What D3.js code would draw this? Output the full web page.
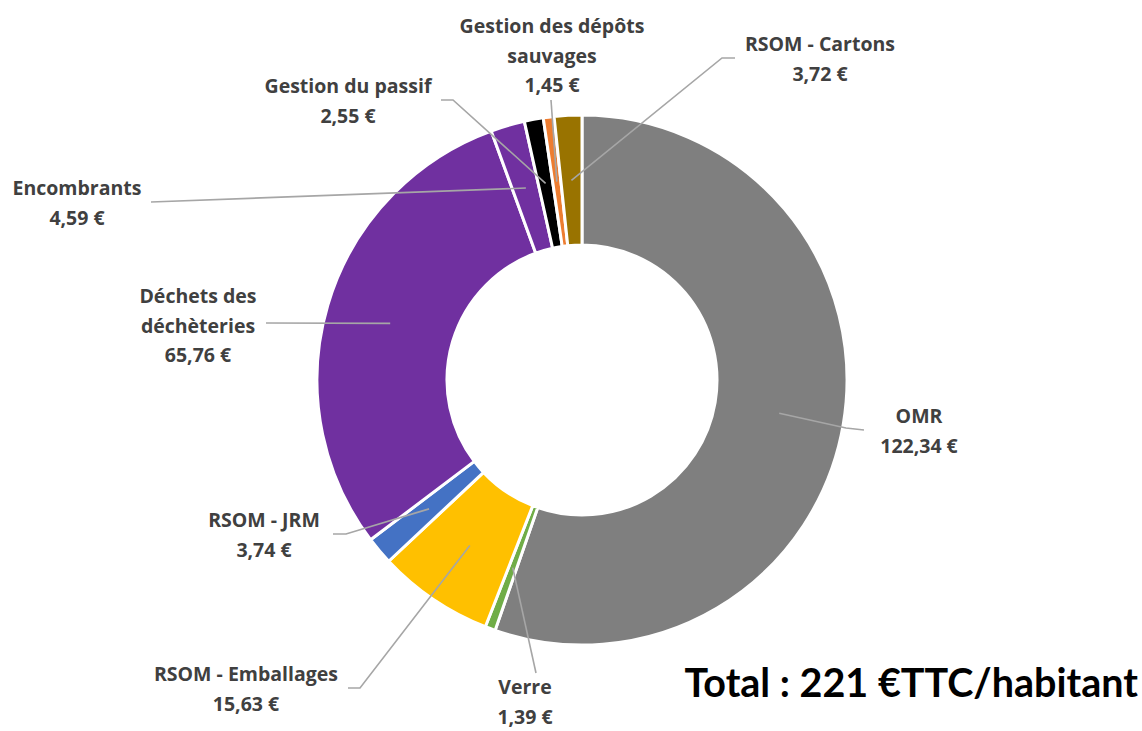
<!DOCTYPE html>
<html>
<head>
<meta charset="utf-8">
<script src="https://cdn.jsdelivr.net/npm/d3@7"></script>
<style>
  body { margin: 0; background: #fff; }
  svg { display: block; }
  .lbl { font-family: "Open Sans", Lato, sans-serif; font-weight: bold; fill: #404040; }
</style>
</head>
<body>
<div id="chart"></div>
<script>
// Data: cost per inhabitant (€ TTC) by waste stream, clockwise from 12 o'clock
var categories = ['OMR', 'Verre', 'RSOM - Emballages', 'RSOM - JRM', 'Déchets des déchèteries',
    'Encombrants', 'Gestion du passif', 'Gestion des dépôts sauvages', 'RSOM - Cartons'];
var values = [122.34, 1.39, 15.63, 3.74, 65.76, 4.59, 2.55, 1.45, 3.72];
var colors = ['#7f7f7f', '#70ad47', '#ffc000', '#4472c4', '#7030a0',
    '#7030a0', '#000000', '#ed7d31', '#997300'];
var totalLabel = 'Total : 221 €TTC/habitant';

// label text split into lines (value line appended below)
var labelLines = [['OMR'], ['Verre'], ['RSOM - Emballages'], ['RSOM - JRM'], ['Déchets des', 'déchèteries'],
    ['Encombrants'], ['Gestion du passif'], ['Gestion des dépôts', 'sauvages'], ['RSOM - Cartons']];

// label placement (text centre + first baseline, leader end, optional elbow)
var labelLayout = [
    { x: 919, y: 423, end: [864, 430], elbow: [846, 428] },
    { x: 525, y: 694, end: [536, 673] },
    { x: 246, y: 681, end: [348, 688], elbow: [360, 688] },
    { x: 264, y: 527, end: [333, 534], elbow: [346, 534] },
    { x: 198, y: 303, end: [266, 323] },
    { x: 77, y: 195, end: [151, 202] },
    { x: 348, y: 93, end: [441, 100], elbow: [453, 100] },
    { x: 552, y: 33, end: [551, 100] },
    { x: 820, y: 51, end: [735, 58], elbow: [722, 58] }
];

var width = 1142, height = 731;
var cx = 582, cy = 380, outerR = 265, innerR = 135;

var fmt = d3.formatLocale({ decimal: ',', thousands: ' ', grouping: [3], currency: ['', ' €'] }).format('.2f');

var svg = d3.select('#chart')
    .append('svg')
    .attr('width', width)
    .attr('height', height);

var data = categories.map(function(c, i) { return { name: c, value: values[i], color: colors[i], i: i }; });

var pie = d3.pie()
    .sort(null)
    .value(function(d) { return d.value; });

var arc = d3.arc()
    .innerRadius(innerR)
    .outerRadius(outerR);

var arcs = pie(data);

var g = svg.append('g')
    .attr('transform', 'translate(' + cx + ',' + cy + ')');

g.selectAll('path.slice')
    .data(arcs)
    .enter()
    .append('path')
    .attr('class', 'slice')
    .attr('d', arc)
    .attr('fill', function(d) { return d.data.color; })
    .attr('stroke', '#fff')
    .attr('stroke-width', 3)
    .attr('stroke-linejoin', 'round');

// Leader lines
svg.selectAll('polyline.leader')
    .data(arcs)
    .enter()
    .append('polyline')
    .attr('class', 'leader')
    .attr('fill', 'none')
    .attr('stroke', '#a6a6a6')
    .attr('stroke-width', 1.6)
    .attr('points', function(d) {
        var c = arc.centroid(d);
        var L = labelLayout[d.data.i];
        var pts = [[cx + c[0], cy + c[1]]];
        if (L.elbow) pts.push(L.elbow);
        pts.push(L.end);
        return pts.map(function(p) { return p.join(','); }).join(' ');
    });

// Labels
var labels = svg.selectAll('text.lbl')
    .data(arcs)
    .enter()
    .append('text')
    .attr('class', 'lbl')
    .attr('text-anchor', 'middle')
    .attr('font-size', 19.5)
    .attr('x', function(d) { return labelLayout[d.data.i].x; })
    .attr('y', function(d) { return labelLayout[d.data.i].y; });

labels.each(function(d) {
    var t = d3.select(this);
    var lines = labelLines[d.data.i].concat([fmt(d.data.value) + ' €']);
    lines.forEach(function(s, k) {
        t.append('tspan')
            .attr('x', labelLayout[d.data.i].x)
            .attr('dy', k === 0 ? 0 : 29.5)
            .text(s);
    });
});

// Total
svg.append('text')
    .attr('x', 1138)
    .attr('y', 697)
    .attr('text-anchor', 'end')
    .attr('font-family', 'Lato, sans-serif')
    .attr('font-weight', 'bold')
    .attr('font-size', 39.5)
    .attr('fill', '#000')
    .text(totalLabel);
</script>
</body>
</html>
